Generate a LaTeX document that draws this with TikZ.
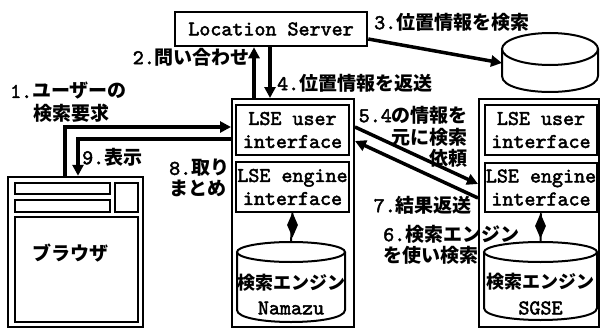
\documentclass[tikz,border=0pt]{standalone}
\usepackage{fontspec}
\setmonofont{lmmono10-regular.otf}[BoldFont=lmmono10-regular.otf,BoldFeatures={FakeBold=2.2}]
\newfontfamily\jpf{Noto Sans CJK JP}
\usetikzlibrary{arrows.meta,shapes.geometric}
\newcommand\nn[1]{{\ttfamily\bfseries\fontsize{21}{21}\selectfont #1}}
\begin{document}
\begin{tikzpicture}[x=1pt,y=-1pt,line join=miter,
  box/.style={draw,line width=2.5pt,inner sep=0pt,align=center,
    font=\ttfamily\bfseries\fontsize{21}{23}\selectfont},
  outer/.style={draw,line width=2pt,inner sep=0pt},
  thin/.style={draw,line width=2pt},
  arr/.style={line width=3.5pt,-{Triangle[length=11pt,width=11pt]}},
  lab/.style={inner sep=0pt,font=\jpf\bfseries\fontsize{19}{21}\selectfont},
  dbtext/.style={inner sep=0pt,font=\jpf\bfseries\fontsize{18}{20}\selectfont},
  dbname/.style={inner sep=0pt,font=\ttfamily\bfseries\fontsize{21}{20}\selectfont},
  dia/.style={diamond,fill=black,inner sep=0pt,minimum width=11pt,minimum height=25pt},
  cyl/.style={line width=2pt,fill=white}
]
\useasboundingbox (0,0) rectangle (601,329);

% Location server
\node[box,minimum width=192pt,minimum height=34pt] (LS) at (271,29) {Location Server};

% top-right database
\draw[cyl] (502,49) -- (502,76) .. controls (502,97.3) and (598,97.3) .. (598,76) -- (598,49);
\draw[cyl] (550,49) ellipse [x radius=48, y radius=16];
\coordinate (db0) at (502,63);

% outer boxes
\node[outer,minimum width=122pt,minimum height=228pt] (L) at (293,213) {};
\node[outer,minimum width=120pt,minimum height=228pt] (R) at (539,213) {};

% inner boxes
\node[box,minimum width=113pt,minimum height=50pt] (LU) at (292.5,130) {LSE user\\interface};
\node[box,minimum width=113pt,minimum height=50pt] (LE) at (292.5,187) {LSE engine\\interface};
\node[box,minimum width=112pt,minimum height=50pt] (RU) at (541,130) {LSE user\\interface};
\node[box,minimum width=112pt,minimum height=49pt] (RE) at (541,187.5) {LSE engine\\interface};

% left search-engine cylinder
\draw[cyl] (237,252) -- (237,310) .. controls (237,326) and (345,326) .. (345,310) -- (345,252);
\draw[cyl] (291,252) ellipse [x radius=54, y radius=10];
\coordinate (lc) at (291,242);
\node[dbtext] (lt1) at (291,283) {検索エンジン};
\node[dbname] (lt2) at (291,308) {Namazu};

% right search-engine cylinder
\draw[cyl] (484,252) -- (484,308) .. controls (484,324) and (597,324) .. (597,308) -- (597,252);
\draw[cyl] (540.5,252) ellipse [x radius=56.5, y radius=10];
\coordinate (rc) at (540.5,242);
\node[dbtext] (rt1) at (540.5,282) {検索エンジン};
\node[dbname] (rt2) at (540.5,308) {SGSE};

% diamond connectors
\draw[line width=2pt] (LE.south) -- (lc);
\node[dia] (ld) at (292.5,225) {};
\draw[line width=2pt] (RE.south) -- (rc);
\node[dia] (rd) at (540.5,226) {};

% browser
\node[draw,line width=2.5pt,inner sep=0pt,minimum width=135pt,minimum height=150pt] (B) at (75.5,252) {};
\draw[thin] (15,183) rectangle (110,194);
\draw[thin] (15,200) rectangle (110,212);
\draw[thin] (115,183) rectangle (138,212);
\draw[thin] (15,217) rectangle (138,322);
\node[lab] (bt) at (70,253) {ブラウザ};

% arrows 1 and 9
\coordinate (p1) at (65,127);
\coordinate (p9) at (78,139);
\draw[arr] (B.north -| p1) -- (p1) -- (L.west |- p1);
\draw[arr] (L.west |- p9) -- (p9) -- (B.north -| p9);

% arrows 2 and 4
\coordinate (c2) at (254,0);
\coordinate (c4) at (270,0);
\draw[arr] (L.north -| c2) -- (LS.south -| c2);
\draw[arr] (LS.south -| c4) -- (L.north -| c4);

% arrow 3
\coordinate (q3) at (0,39);
\draw[arr] (LS.east |- q3) -- (db0);

% arrows 5 and 7
\coordinate (s5) at (0,127);
\coordinate (e5) at (0,184);
\coordinate (s7) at (0,198);
\coordinate (e7) at (0,141);
\draw[arr] (L.east |- s5) -- (R.west |- e5);
\draw[arr] (R.west |- s7) -- (L.east |- e7);

% labels
\node[lab,anchor=west] (l1a) at (10,91) {\nn{1.}ユーザーの};
\node[lab,anchor=west] (l1b) at (33,113) {検索要求};
\node[lab,anchor=east] (l2) at (250,57) {\nn{2.}問い合わせ};
\node[lab,anchor=west] (l3) at (374,22) {\nn{3.}位置情報を検索};
\node[lab,anchor=west] (l4) at (277,83) {\nn{4.}位置情報を返送};
\node[lab,anchor=east] (l5a) at (468,115) {\nn{5.4}の情報を};
\node[lab,anchor=east] (l5b) at (468,137) {元に検索};
\node[lab,anchor=east] (l5c) at (468,158) {依頼};
\node[lab,anchor=west] (l6a) at (383,234) {\nn{6.}検索エンジン};
\node[lab,anchor=west] (l6b) at (383,255) {を使い検索};
\node[lab,anchor=east] (l7) at (472,205) {\nn{7.}結果返送};
\node[lab,anchor=west] (l8a) at (169,168) {\nn{8.}取り};
\node[lab,anchor=west] (l8b) at (169,188) {まとめ};
\node[lab,anchor=west] (l9) at (82,157) {\nn{9.}表示};
\end{tikzpicture}
\end{document}
